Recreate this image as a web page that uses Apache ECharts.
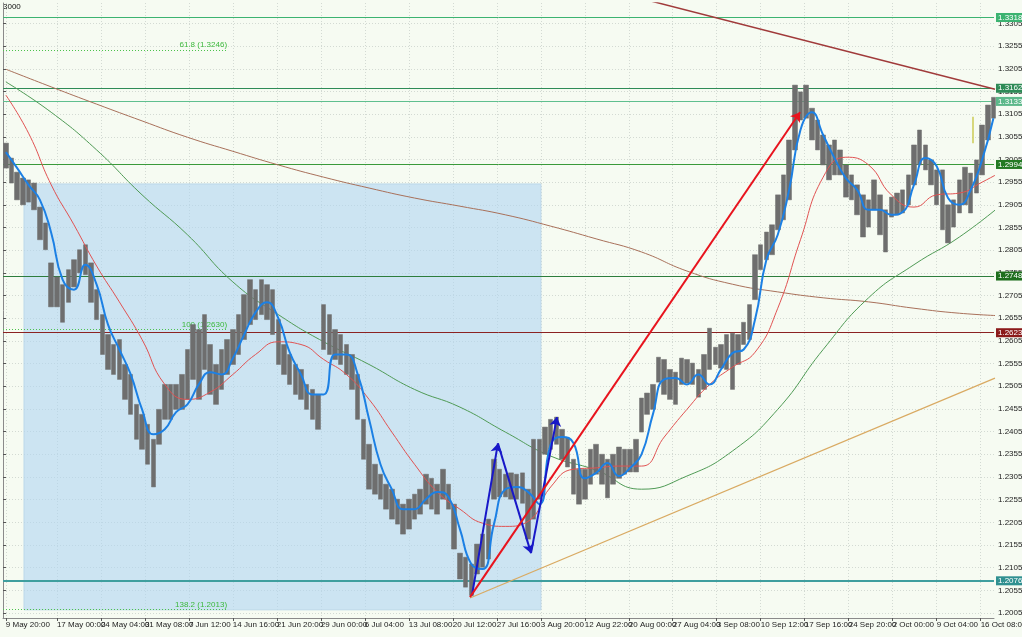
<!DOCTYPE html>
<html><head><meta charset="utf-8">
<script src="https://cdn.jsdelivr.net/npm/echarts/dist/echarts.min.js"></script>
<style>html,body{margin:0;padding:0;background:#f6fbf2;}#c{width:1022px;height:637px;}</style>
</head><body><div id="c"></div>
<script>
// ---------- DATA ----------
const yTicks = [1.2005,1.2055,1.2105,1.2155,1.2205,1.2255,1.2305,1.2355,1.2405,1.2455,1.2505,1.2555,1.2605,1.2655,1.2705,1.2755,1.2805,1.2855,1.2905,1.2955,1.3005,1.3055,1.3105,1.3155,1.3205,1.3255,1.3305];
const xLabelIdx = [2,38,69,100,131,162,193,224,255,286,317,348,379,410,441,472,503,534,565,596,627,658,689];
const xLabelText = ['9 May 20:00','17 May 00:00','24 May 04:00','31 May 08:00','7 Jun 12:00','14 Jun 16:00','21 Jun 20:00','29 Jun 00:00','6 Jul 04:00','13 Jul 08:00','20 Jul 12:00','27 Jul 16:00','3 Aug 20:00','12 Aug 22:00','20 Aug 00:00','27 Aug 04:00','3 Sep 08:00','10 Sep 12:00','17 Sep 16:00','24 Sep 20:00','2 Oct 00:00','9 Oct 04:00','16 Oct 08:00'];

// price bars (bar index = priceStart + i*priceStep)
const priceStart = 2, priceStep = 4;
const priceHigh = [
 1.3041,1.3008,1.2977,1.2964,1.2960,1.2953,1.2900,1.2865,1.2777,1.2746,
 1.2729,1.2762,1.2784,1.2806,1.2817,1.2777,1.2718,1.2663,1.2619,1.2597,
 1.2608,1.2553,1.2531,1.2465,1.2443,1.2421,1.2388,1.2454,1.2509,1.2509,
 1.2509,1.2531,1.2586,1.2641,1.2630,1.2663,1.2597,1.2553,1.2586,1.2608,
 1.2630,1.2663,1.2707,1.2740,1.2718,1.2740,1.2729,1.2718,1.2652,1.2597,
 1.2575,1.2553,1.2542,1.2509,1.2498,1.2487,1.2685,1.2663,1.2630,1.2619,
 1.2597,1.2575,1.2531,1.2432,1.2377,1.2333,1.2311,1.2289,1.2278,1.2256,
 1.2245,1.2256,1.2267,1.2278,1.2311,1.2302,1.2289,1.2322,1.2289,1.2245,
 1.2137,1.2128,1.2113,1.2157,1.2179,1.2212,1.2344,1.2322,1.2311,1.2314,
 1.2311,1.2314,1.2278,1.2388,1.2388,1.2415,1.2432,1.2437,1.2410,1.2391,
 1.2344,1.2322,1.2322,1.2366,1.2377,1.2355,1.2344,1.2355,1.2371,1.2366,
 1.2366,1.2388,1.2479,1.2490,1.2509,1.2569,1.2564,1.2542,1.2536,1.2567,
 1.2564,1.2556,1.2542,1.2575,1.2633,1.2591,1.2597,1.2619,1.2622,1.2619,
 1.2646,1.2685,1.2795,1.2817,1.2845,1.2861,1.2927,1.2971,1.3048,1.3169,
 1.3154,1.3169,1.3118,1.3092,1.3059,1.3037,1.3048,1.3026,1.2993,1.2971,
 1.2949,1.2927,1.2916,1.2960,1.2927,1.2894,1.2922,1.2931,1.2938,1.2971,
 1.3037,1.3070,1.3037,1.3004,1.2982,1.2982,1.2905,1.2916,1.2960,1.2988,
 1.2975,1.3004,1.3081,1.3125,1.3142];
const priceLow = [
 1.2986,1.2953,1.2916,1.2905,1.2911,1.2894,1.2828,1.2806,1.2680,1.2680,
 1.2646,1.2690,1.2724,1.2755,1.2751,1.2690,1.2652,1.2575,1.2542,1.2531,
 1.2520,1.2476,1.2443,1.2388,1.2366,1.2333,1.2283,1.2377,1.2432,1.2432,
 1.2454,1.2454,1.2476,1.2520,1.2476,1.2542,1.2487,1.2465,1.2498,1.2531,
 1.2553,1.2575,1.2608,1.2641,1.2652,1.2663,1.2652,1.2619,1.2553,1.2531,
 1.2509,1.2487,1.2476,1.2454,1.2432,1.2410,1.2586,1.2575,1.2564,1.2553,
 1.2531,1.2498,1.2432,1.2344,1.2278,1.2267,1.2256,1.2234,1.2212,1.2201,
 1.2179,1.2190,1.2212,1.2223,1.2245,1.2234,1.2223,1.2256,1.2234,1.2146,
 1.2080,1.2062,1.2044,1.2091,1.2106,1.2124,1.2256,1.2261,1.2261,1.2256,
 1.2256,1.2247,1.2168,1.2212,1.2256,1.2355,1.2366,1.2377,1.2344,1.2327,
 1.2267,1.2245,1.2256,1.2289,1.2311,1.2289,1.2259,1.2289,1.2302,1.2311,
 1.2316,1.2316,1.2404,1.2443,1.2454,1.2514,1.2487,1.2476,1.2465,1.2509,
 1.2512,1.2509,1.2481,1.2498,1.2542,1.2553,1.2545,1.2542,1.2498,1.2553,
 1.2597,1.2608,1.2696,1.2762,1.2784,1.2795,1.2850,1.2872,1.2916,1.3026,
 1.3092,1.3096,1.3048,1.3026,1.2993,1.2960,1.2971,1.2971,1.2922,1.2916,
 1.2883,1.2834,1.2856,1.2894,1.2839,1.2801,1.2878,1.2883,1.2887,1.2905,
 1.2949,1.2993,1.2982,1.2949,1.2905,1.2850,1.2821,1.2856,1.2887,1.2905,
 1.2887,1.2931,1.2971,1.3048,1.3096];

// moving averages
const fastStart = 2, fastStep = 8;
const maFast = [
 1.3021,1.2986,1.2949,1.2916,1.2843,1.2740,1.2718,1.2773,1.2729,1.2641,
 1.2586,1.2531,1.2454,1.2399,1.2410,1.2448,1.2465,1.2509,1.2536,1.2531,
 1.2567,1.2619,1.2668,1.2690,1.2655,1.2580,1.2531,1.2487,1.2487,1.2575,
 1.2575,1.2531,1.2432,1.2333,1.2278,1.2234,1.2234,1.2256,1.2272,1.2261,
 1.2190,1.2113,1.2102,1.2201,1.2278,1.2283,1.2272,1.2245,1.2377,1.2393,
 1.2380,1.2302,1.2314,1.2336,1.2307,1.2325,1.2355,1.2443,1.2520,1.2523,
 1.2509,1.2531,1.2509,1.2542,1.2578,1.2586,1.2652,1.2784,1.2839,1.2938,
 1.3070,1.3109,1.3059,1.3008,1.2964,1.2938,1.2894,1.2894,1.2883,1.2889,
 1.2949,1.3008,1.2990,1.2920,1.2905,1.2938,1.3004,1.3096];
const midStart = 2, midStep = 16;
const maMid = [
 1.3147,1.3063,1.2949,1.2861,1.2770,1.2691,1.2608,1.2509,1.2476,1.2492,
 1.2531,1.2575,1.2603,1.2597,1.2564,1.2531,1.2476,1.2404,1.2333,1.2272,
 1.2234,1.2203,1.2196,1.2207,1.2283,1.2322,1.2325,1.2329,1.2329,1.2393,
 1.2454,1.2509,1.2547,1.2580,1.2677,1.2828,1.2966,1.3010,1.2993,1.2927,
 1.2900,1.2927,1.2931,1.2955,1.2982];
const slowStart = 2, slowStep = 32;
const maSlow = [
 1.3176,1.3109,1.3026,1.2927,1.2839,1.2735,1.2663,1.2603,1.2553,1.2498,
 1.2459,1.2404,1.2351,1.2320,1.2278,1.2307,1.2362,1.2454,1.2586,1.2700,
 1.2773,1.2834,1.2911];
const maLong = [
 1.3204,1.3165,1.3127,1.3090,1.3054,1.3023,1.2993,1.2966,1.2942,1.2920,
 1.2902,1.2883,1.2858,1.2830,1.2801,1.2759,1.2730,1.2713,1.2700,1.2691,
 1.2677,1.2666,1.2660];

// horizontal levels
const levelValues = [1.3318, 1.3162, 1.3133, 1.2994, 1.2748, 1.2623, 1.2076];
const bidPrice = 1.3012;   // hidden current-price tag behind 1.2994
// fibonacci levels
const fibValues = [1.3246, 1.2630, 1.2013];
const fibNames = ['61.8', '100', '138.2'];
const fibEndIdx = 158.6;
// zigzag points (bar index, price)
const zzIdx = [330.5, 348.8, 372.1, 390.4];
const zzPrice = [1.2044, 1.2379, 1.2137, 1.2437];
// red arrow
const arrowIdx = [329.1, 561.7];
const arrowPrice = [1.2040, 1.3109];
// trend lines
const trendRedIdx = [454.5, 699.1], trendRedPrice = [1.3356, 1.3160];
const trendTanIdx = [329.1, 699.1], trendTanPrice = [1.2038, 1.2523];
// small vertical marker
const markIdx = [683.6, 683.6], markPrice = [1.3099, 1.3041];
// rectangle
const rectIdx = [14.8, 379.1], rectPrice = [1.2951, 1.2012];

// ---------- STYLE ----------
const FONT = "'Liberation Sans Narrow','Liberation Sans',Arial,sans-serif";
const levelLine = ['#3cb371','#2e8b57','#5fbf8f','#3a9a3a','#2d7d3d','#8b2222','#3f9f9f'];
const levelBg = ['#3cb371','#2e8b57','#5cb88a','#237a23','#1e6e1e','#8b1a1a','#2f9090'];

const bars = priceHigh.map((h, i) => [priceStart + i * priceStep, priceLow[i], h, priceLow[i], h]);
const toLine = (arr, s, st) => arr.map((v, i) => [s + i * st, v]);
const pts = (xs, ys) => xs.map((x, i) => [x, ys[i]]);

const chart = echarts.init(document.getElementById('c'), null, {renderer: 'canvas'});
const dotted = {color: '#d3dad3', type: [1, 2], width: 1};
const tagLabel = (txt, bg) => ({show: true, position: 'end', formatter: txt, backgroundColor: bg,
  color: '#fff', fontSize: 8, padding: [1, 3, 0, 2], distance: 2, fontFamily: FONT});

const option = {
  backgroundColor: '#f6fbf2',
  animation: false,
  grid: {left: 3, right: 28, top: 3, bottom: 19, containLabel: false, outerBoundsMode: 'none'},
  xAxis: {
    type: 'value', min: 0, max: 698.4,
    axisLine: {onZero: false, lineStyle: {color: '#8a8a8a', width: 1}},
    axisTick: {show: true, length: 3, customValues: xLabelIdx, lineStyle: {color: '#555'}},
    axisLabel: {customValues: xLabelIdx, formatter: v => xLabelText[xLabelIdx.indexOf(v)] || '',
      align: 'left', fontSize: 8, margin: 3, color: '#222', fontFamily: FONT},
    splitLine: {show: true, lineStyle: dotted}
  },
  yAxis: {
    type: 'value', position: 'right', min: 1.1994, max: 1.3350,
    axisLine: {show: true, lineStyle: {color: '#8a8a8a', width: 1}},
    axisTick: {show: true, length: 3, customValues: yTicks, lineStyle: {color: '#555'}},
    axisLabel: {customValues: yTicks, formatter: v => v.toFixed(4), fontSize: 8, margin: 4, color: '#222', fontFamily: FONT},
    splitLine: {show: true, lineStyle: dotted}
  },
  graphic: [{type: 'text', left: 3, top: 3, style: {text: '3000', fontSize: 8, fill: '#111', font: '8px ' + FONT}}],
  series: [
    { // rectangle
      type: 'line', data: [], z: 1,
      markArea: {silent: true, z: 1,
        itemStyle: {color: 'rgba(176,214,242,0.6)', borderColor: '#bcd8ea', borderWidth: 1},
        data: [[{coord: [rectIdx[0], rectPrice[0]]}, {coord: [rectIdx[1], rectPrice[1]]}]]}
    },
    { // hidden bid tag
      type: 'line', data: [], z: 2,
      markLine: {silent: true, z: 2, precision: 4, symbol: ['none', 'none'],
        data: [{yAxis: bidPrice, lineStyle: {width: 0, opacity: 0}, label: tagLabel(bidPrice.toFixed(4), '#000')}]}
    },
    { // horizontal levels
      type: 'line', data: [], z: 2,
      markLine: {silent: true, z: 2, precision: 4, symbol: ['none', 'none'], animation: false,
        data: levelValues.map((v, i) => ({yAxis: v,
          lineStyle: {color: levelLine[i], width: i === 6 ? 2 : 1, type: 'solid'},
          label: tagLabel(v.toFixed(4), levelBg[i])}))}
    },
    { // fibonacci
      type: 'line', data: [], z: 2,
      markLine: {silent: true, z: 2, precision: 4, symbol: ['none', 'none'],
        data: fibValues.map((v, i) => [
          {coord: [0, v], lineStyle: {color: '#4cc24c', type: [1, 2], width: 1},
           label: {show: true, position: 'insideEndTop', formatter: fibNames[i] + ' (' + v.toFixed(4) + ')',
             color: '#3cb83c', fontSize: 8, distance: 1, fontFamily: FONT}},
          {coord: [fibEndIdx, v]}])}
    },
    {type: 'line', data: toLine(maLong, slowStart, slowStep), showSymbol: false, smooth: true, z: 3,
     lineStyle: {color: '#a8705a', width: 1}},
    {type: 'line', data: toLine(maSlow, slowStart, slowStep), showSymbol: false, smooth: true, z: 3,
     lineStyle: {color: '#4f9a55', width: 1}},
    {type: 'line', data: pts(trendRedIdx, trendRedPrice), showSymbol: false, z: 3,
     lineStyle: {color: '#a03a3a', width: 1.5}},
    {type: 'line', data: pts(trendTanIdx, trendTanPrice), showSymbol: false, z: 3,
     lineStyle: {color: '#d9aa62', width: 1.2}},
    {type: 'candlestick', data: bars, barWidth: 5, z: 4,
     itemStyle: {color: '#6e6e6e', color0: '#6e6e6e', borderColor: '#6e6e6e', borderColor0: '#6e6e6e', borderWidth: 0.5}},
    {type: 'line', data: toLine(maMid, midStart, midStep), showSymbol: false, smooth: true, z: 5,
     lineStyle: {color: '#e05252', width: 1}},
    {type: 'line', data: toLine(maFast, fastStart, fastStep), showSymbol: false, smooth: true, z: 5,
     lineStyle: {color: '#1c80e4', width: 2}},
    {type: 'line', data: pts(markIdx, markPrice), showSymbol: false, z: 5,
     lineStyle: {color: '#cccc55', width: 1.5}},
    { // zigzag + red arrow
      type: 'line', data: [], z: 6,
      markLine: {silent: true, z: 6, precision: 4, symbol: ['none', 'arrow'], symbolSize: 9,
        data: [
          ...zzIdx.slice(1).map((x, i) => [
            {coord: [zzIdx[i], zzPrice[i]], lineStyle: {color: '#1818c8', width: 2, type: 'solid'}, label: {show: false}},
            {coord: [x, zzPrice[i + 1]]}]),
          [{coord: [arrowIdx[0], arrowPrice[0]], lineStyle: {color: '#e8141e', width: 2, type: 'solid'}, label: {show: false}},
           {coord: [arrowIdx[1], arrowPrice[1]]}]
        ]}
    }
  ]
};
chart.setOption(option);
</script></body></html>
